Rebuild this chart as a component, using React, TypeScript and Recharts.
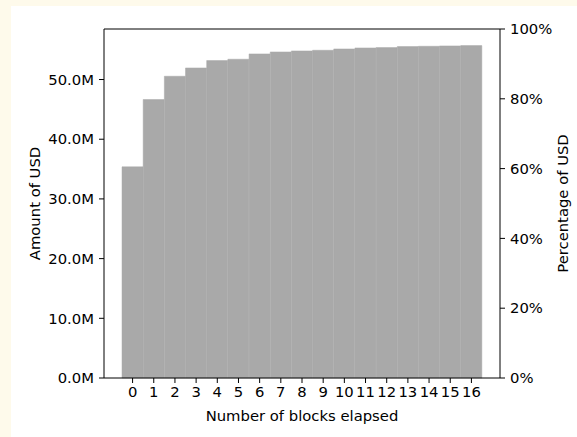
import { ComposedChart, Bar, Line, XAxis, YAxis } from 'recharts'

const BLOCKS = ['0', '1', '2', '3', '4', '5', '6', '7', '8', '9', '10', '11', '12', '13', '14', '15', '16']
// cumulative amount of USD, in millions
const AMOUNT_M = [
  35.37, 46.65, 50.55, 51.94, 53.18, 53.40, 54.29, 54.62, 54.79,
  54.90, 55.12, 55.29, 55.35, 55.52, 55.57, 55.63, 55.68,
]
const AMOUNT_TICKS = [0, 10, 20, 30, 40, 50]
const PCT_TICKS = [0, 20, 40, 60, 80, 100]

const FONT = '"DejaVu Sans", sans-serif'
const tickStyle = { fontSize: 14.8, fill: '#000', fontFamily: FONT }

export default function App() {
  const top = Math.max(...AMOUNT_M) * 1.05
  // share of the axis top, which is what the right axis reads
  const data = BLOCKS.map((b, i) => ({ block: b, amount: AMOUNT_M[i], pct: (AMOUNT_M[i] / top) * 100 }))

  return (
    <div style={{ position: 'fixed', left: 0, top: 0, width: 577, height: 437, background: '#fefaeb' }}>
      <div style={{ position: 'absolute', left: 11, top: 6, width: 566, height: 431, background: '#fff' }}>
        <ComposedChart
          width={566}
          height={431}
          data={data}
          barCategoryGap={0}
          margin={{ top: 22, right: 0, bottom: 0, left: 0 }}
          style={{ fontFamily: FONT }}
        >
          <XAxis
            dataKey="block"
            interval={0}
            height={59}
            padding={{ left: 18, right: 18 }}
            tick={tickStyle}
            tickSize={5}
            tickMargin={3}
            stroke="#000"
            label={{ value: 'Number of blocks elapsed', position: 'insideBottom', offset: 16, style: { ...tickStyle } }}
          />
          <XAxis xAxisId="top" orientation="top" dataKey="block" height={1} tick={false} tickLine={false} stroke="#000" />
          <YAxis
            yAxisId="left"
            width={93}
            domain={[0, top]}
            ticks={AMOUNT_TICKS}
            tickFormatter={v => `${v.toFixed(1)}M`}
            tick={tickStyle}
            tickSize={5}
            tickMargin={5}
            stroke="#000"
            label={{ value: 'Amount of USD', angle: -90, position: 'insideLeft', offset: 24, style: { ...tickStyle, textAnchor: 'middle' } }}
          />
          <YAxis
            yAxisId="right"
            orientation="right"
            width={77}
            type="number"
            domain={[0, 100]}
            ticks={PCT_TICKS}
            tickFormatter={v => `${v}%`}
            tick={tickStyle}
            tickSize={5}
            tickMargin={5}
            stroke="#000"
            label={{ value: 'Percentage of USD', angle: -90, position: 'insideRight', offset: 14, style: { ...tickStyle, textAnchor: 'middle' } }}
          />
          <Bar yAxisId="left" dataKey="amount" fill="#a9a9a9" stroke="#a9a9a9" strokeWidth={0.5} isAnimationActive={false} />
          <Line yAxisId="right" dataKey="pct" stroke="none" dot={false} activeDot={false} isAnimationActive={false} />
        </ComposedChart>
      </div>
    </div>
  )
}
